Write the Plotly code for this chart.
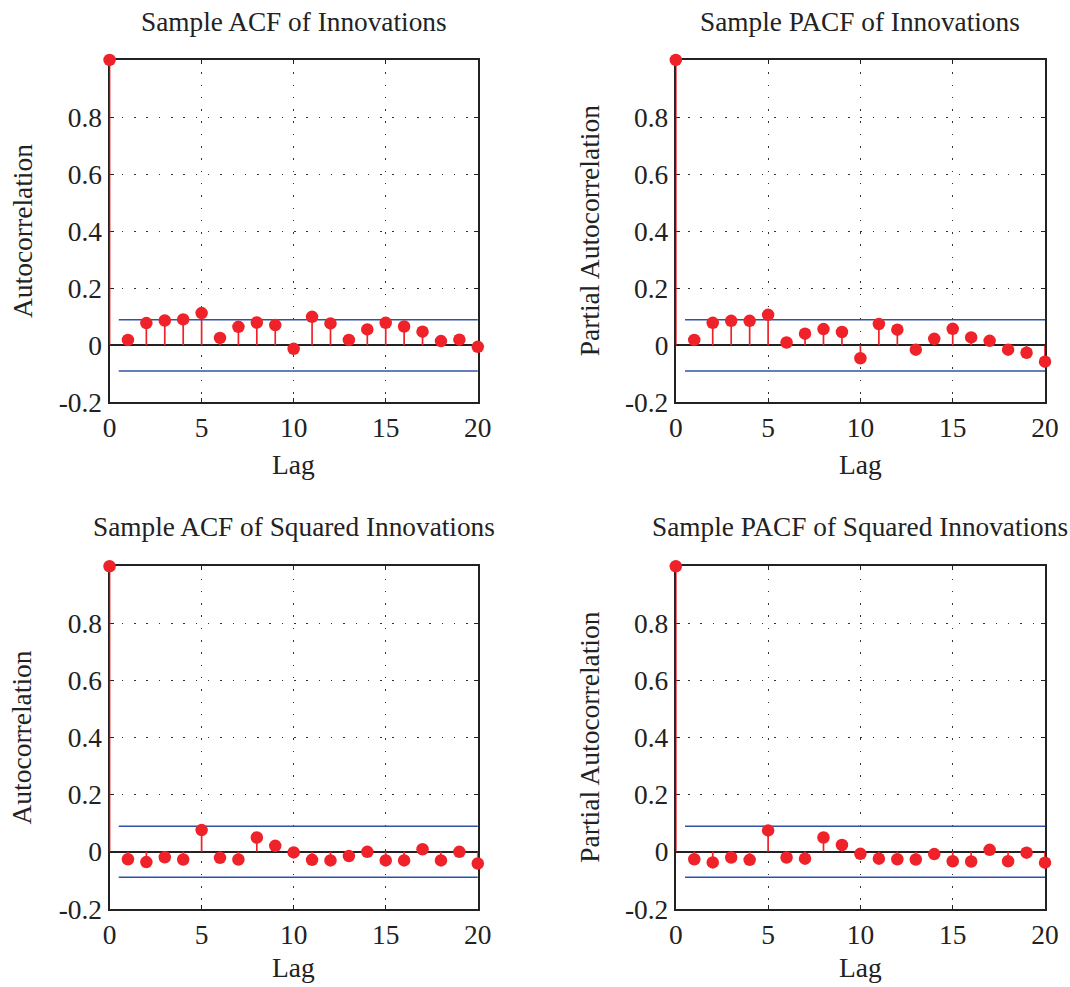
import plotly.graph_objects as go

# Lags and correlation estimates for the four panels
lags = list(range(0, 21))

acf_innov = [1.0, 0.019, 0.078, 0.087, 0.091, 0.113, 0.026, 0.065, 0.080, 0.071, -0.012,
             0.100, 0.077, 0.019, 0.056, 0.079, 0.066, 0.048, 0.015, 0.020, -0.005]
pacf_innov = [1.0, 0.019, 0.079, 0.086, 0.086, 0.107, 0.010, 0.041, 0.057, 0.047, -0.045,
              0.075, 0.055, -0.015, 0.023, 0.058, 0.028, 0.016, -0.015, -0.026, -0.057]
acf_sq = [1.0, -0.026, -0.036, -0.019, -0.027, 0.076, -0.021, -0.027, 0.050, 0.021, -0.002,
          -0.028, -0.030, -0.015, 0.000, -0.030, -0.030, 0.009, -0.030, 0.000, -0.041]
pacf_sq = [1.0, -0.026, -0.037, -0.020, -0.028, 0.075, -0.020, -0.024, 0.050, 0.024, -0.007,
           -0.024, -0.026, -0.027, -0.008, -0.033, -0.034, 0.007, -0.033, -0.003, -0.038]

conf_bound = 0.0894  # approx. 2/sqrt(N)

titles = ["Sample ACF of Innovations", "Sample PACF of Innovations",
          "Sample ACF of Squared Innovations", "Sample PACF of Squared Innovations"]
ylabels = ["Autocorrelation", "Partial Autocorrelation", "Autocorrelation", "Partial Autocorrelation"]
series = [acf_innov, pacf_innov, acf_sq, pacf_sq]

x_ticks = [0, 5, 10, 15, 20]
y_ticks = [-0.2, 0, 0.2, 0.4, 0.6, 0.8]
y_ticktext = ["-0.2", "0", "0.2", "0.4", "0.6", "0.8"]

W, H = 1070, 987
FONT = "Liberation Serif"
RED = "#ee2228"
BLUE = "#2f52a8"
INK = "#222"

# Panel placement in pixels: (left, right, top, bottom)
panels = [(104.6, 480.2, 60.9, 409.1), (682.2, 1058.8, 60.9, 409.1),
          (104.6, 480.2, 575.6, 923.9), (682.2, 1058.8, 575.6, 923.9)]
title_y = [22.3, 22.3, 536.0, 536.0]
xlabel_y = [472.5, 472.5, 983.0, 983.0]
ylabel_x = [15.2, 593.8, 15.2, 593.8]

fig = go.Figure()
layout = dict(width=W, height=H, margin=dict(l=0, r=0, t=0, b=0),
              paper_bgcolor="white", plot_bgcolor="white", showlegend=False,
              font=dict(family=FONT, size=24, color=INK))
annotations = []
title_font = dict(family=FONT, size=27.3, color=INK)
label_font = dict(family=FONT, size=27.5, color=INK)

for i, (vals, (l, r, t, b)) in enumerate(zip(series, panels)):
    n = i + 1
    xa = "x" if n == 1 else f"x{n}"
    ya = "y" if n == 1 else f"y{n}"
    xkey = "xaxis" if n == 1 else f"xaxis{n}"
    ykey = "yaxis" if n == 1 else f"yaxis{n}"

    # stems
    sx, sy = [], []
    for lag, v in zip(lags, vals):
        sx += [lag, lag, None]
        sy += [0, v, None]
    fig.add_trace(go.Scatter(x=sx, y=sy, mode="lines", xaxis=xa, yaxis=ya,
                             line=dict(color=RED, width=1.7), hoverinfo="skip"))
    # confidence bounds
    for s in (1, -1):
        fig.add_trace(go.Scatter(x=[0.5, 20.5], y=[s * conf_bound] * 2, mode="lines",
                                 xaxis=xa, yaxis=ya, line=dict(color=BLUE, width=1.5),
                                 hoverinfo="skip"))
    # markers
    fig.add_trace(go.Scatter(x=lags, y=vals, mode="markers", xaxis=xa, yaxis=ya,
                             marker=dict(color=RED, size=12.5, line=dict(width=0)),
                             cliponaxis=False))

    common = dict(ticks="inside", ticklen=4, tickcolor=INK, showline=True,
                  linecolor=INK, linewidth=2, mirror="ticks", showgrid=True,
                  gridcolor="#333", gridwidth=1.2, griddash="1.5px,10.8px",
                  layer="below traces", tickfont=dict(family=FONT, size=27.4, color=INK))
    layout[xkey] = dict(domain=[l / W, r / W], anchor=ya, range=[0, 20],
                        tickvals=x_ticks, zeroline=False, **common)
    layout[ykey] = dict(domain=[1 - b / H, 1 - t / H], anchor=xa, range=[-0.2, 1.0],
                        tickvals=y_ticks, ticktext=y_ticktext, zeroline=True,
                        zerolinecolor=INK, zerolinewidth=2, **common)

    cx = (l + r) / 2 / W
    annotations.append(dict(text=titles[i], xref="paper", yref="paper",
                            x=cx, y=1 - title_y[i] / H, xanchor="center",
                            yanchor="middle", showarrow=False, font=title_font))
    annotations.append(dict(text="Lag", xref="paper", yref="paper",
                            x=cx, y=1 - xlabel_y[i] / H, xanchor="center",
                            yanchor="middle", showarrow=False, font=label_font))
    annotations.append(dict(text=ylabels[i], xref="paper", yref="paper",
                            x=ylabel_x[i] / W, y=1 - (t + b) / 2 / H, xanchor="center",
                            yanchor="middle", textangle=-90, showarrow=False,
                            font=label_font))

layout["annotations"] = annotations
fig.update_layout(**layout)
fig.write_html("out.html")
